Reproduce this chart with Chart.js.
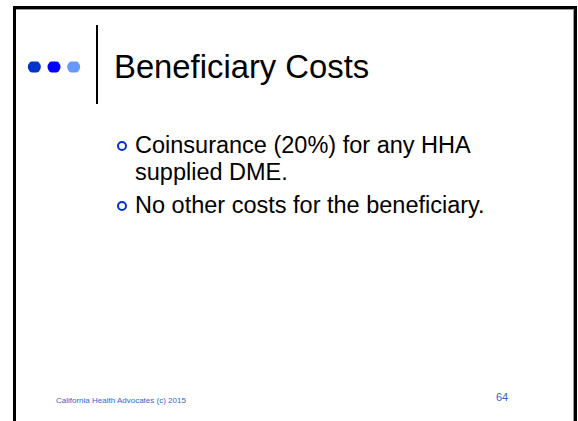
<!DOCTYPE html>
<html>
<head>
<meta charset="utf-8">
<script src="https://cdn.jsdelivr.net/npm/chart.js@4"></script>
<style>
  html, body { margin: 0; padding: 0; background: #fff; }
  body { width: 578px; height: 421px; position: relative; overflow: hidden; font-family: "Liberation Sans", Arial, sans-serif; }
  #frame { position: absolute; left: 13px; top: 6px; width: 558px; height: 430px; border: 3px solid #000; border-bottom: none; box-shadow: inset -1px 1px 0 #999; }
  #bar { position: absolute; left: 96px; top: 25px; width: 2px; height: 79px; background: #000; }
  #dots { position: absolute; left: 18px; top: 55px; width: 72px; height: 24px; }
  #title { position: absolute; left: 114px; top: 48px; font-size: 32.8px; color: #000; white-space: nowrap; }
  ul { position: absolute; left: 117px; top: 132px; margin: 0; padding: 0; list-style: none; font-size: 23.5px; line-height: 27px; }
  li { position: relative; padding-left: 18px; margin-bottom: 6px; }
  li:before { content: ""; position: absolute; left: 0; top: 9px; width: 6px; height: 6px; border: 2px solid #0033cc; border-radius: 50%; }
  #foot { position: absolute; left: 56px; top: 396px; font-size: 8px; color: #3366cc; }
  #page { position: absolute; left: 496px; top: 391px; font-size: 11px; color: #3366cc; }
</style>
</head>
<body>
<div id="frame"></div>
<div id="dots"><canvas id="dotChart"></canvas></div>
<div id="bar"></div>
<div id="title">Beneficiary Costs</div>
<ul>
  <li>Coinsurance (20%) for any HHA<br>supplied DME.</li>
  <li>No other costs for the beneficiary.</li>
</ul>
<div id="foot">California Health Advocates (c) 2015</div>
<div id="page">64</div>
<script>
// i tre pallini del titolo
var dotIndex = [1, 2, 3];
var dotLevel = [0, 0, 0];
var dotColors = ["#0033cc", "#0000ff", "#6699ff"];

function init() {
  printDots();
}

function printDots() {
  var ctx = document.getElementById('dotChart').getContext('2d');
  new Chart(ctx, {
    type: 'scatter',
    data: {
      datasets: [{
        data: dotIndex.map(function(x, i) { return { x: x, y: dotLevel[i] }; }),
        backgroundColor: dotColors,
        borderWidth: 0,
        pointRadius: 6.5
      }]
    },
    options: {
      responsive: true,
      maintainAspectRatio: false,
      animation: false,
      layout: { padding: 0 },
      plugins: { legend: { display: false }, tooltip: { enabled: false } },
      scales: {
        x: { display: false, min: 0.5, max: 3.5 },
        y: { display: false, min: -1, max: 1 }
      }
    }
  });
}

init();
</script>
</body>
</html>
